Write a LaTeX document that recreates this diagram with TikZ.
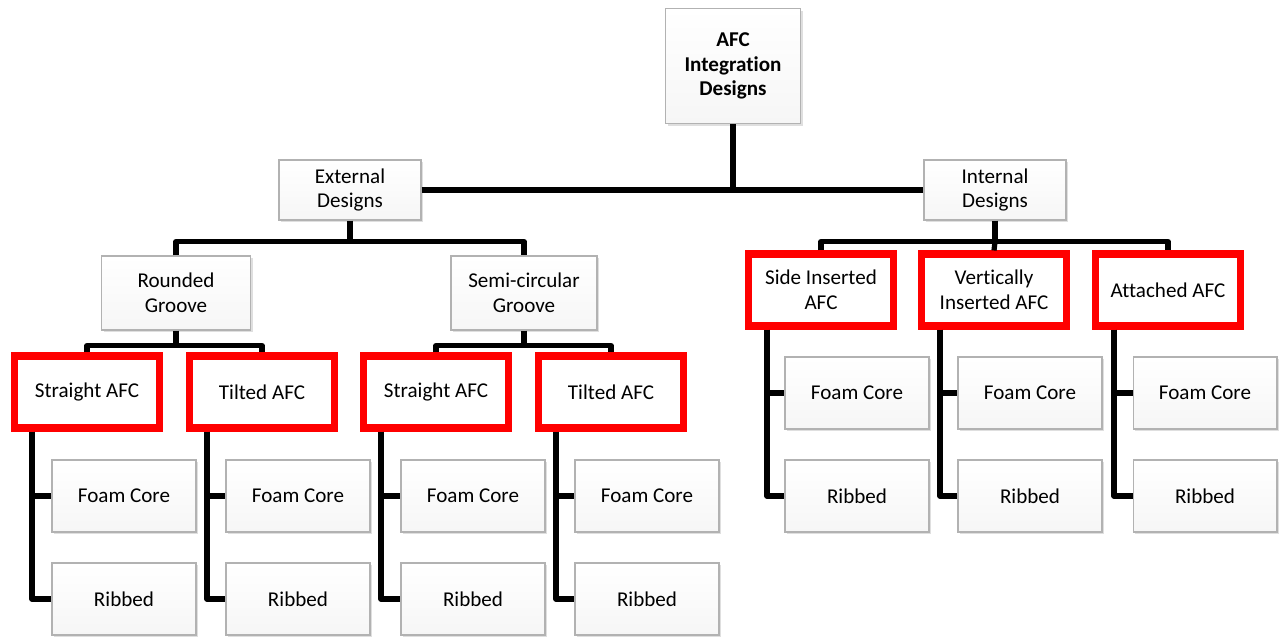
\documentclass[tikz,border=0pt]{standalone}
\usepackage{fontspec}
\setmainfont[Ligatures=NoCommon]{Carlito}
\usepackage{tikz}
\usetikzlibrary{positioning, shadows, calc}

\begin{document}
\begin{tikzpicture}[
    x=0.02cm, y=0.02cm,
    box/.style={
        rectangle, draw=gray!60, line width=0.6pt,
        top color=white, bottom color=gray!7,
        drop shadow={opacity=0.25, shadow xshift=1.2pt, shadow yshift=-1.2pt},
        font=\fontsize{12}{14}\selectfont,
        align=center, inner sep=2pt
    },
    leaf/.style={box, minimum width=2.88cm, minimum height=1.44cm},
    afc/.style={
        rectangle, draw=red, line width=4pt,
        fill=white,
        drop shadow={opacity=0.25, shadow xshift=1.5pt, shadow yshift=-1.5pt},
        minimum width=2.9cm, minimum height=1.44cm,
        font=\fontsize{12}{14}\selectfont,
        align=center, inner sep=2pt
    },
    conn/.style={line width=3pt, black, line join=round}
]
\useasboundingbox (0,0) rectangle (1281,-639);

% === ROOT ===

\node[box, minimum width=2.7cm, minimum height=2.3cm, font=\fontsize{12}{14}\selectfont\bfseries]
    (root) at (733,-66) {AFC\\Integration\\Designs};

\node[box, minimum width=2.84cm, minimum height=1.2cm] (ext) at (350,-190) {External\\Designs};
\node[box, minimum width=2.84cm, minimum height=1.2cm] (int) at (995,-190) {Internal\\Designs};

% === EXTERNAL ===

\node[box, minimum width=2.98cm, minimum height=1.48cm] (rg) at (176,-293) {Rounded\\Groove};
\node[box, minimum width=2.92cm, minimum height=1.48cm] (sg) at (524,-293) {Semi-circular\\Groove};

\node[afc] (sa1) at (87,-392) {Straight AFC};
\node[afc] (ta1) at (262,-392) {Tilted AFC};
\node[afc] (sa2) at (436,-392) {Straight AFC};
\node[afc] (ta2) at (611,-392) {Tilted AFC};

\node[leaf] (fc1) at (124,-496) {Foam Core};
\node[leaf] (rb1) at (124,-599) {Ribbed};
\node[leaf] (fc2) at (298,-496) {Foam Core};
\node[leaf] (rb2) at (298,-599) {Ribbed};
\node[leaf] (fc3) at (473,-496) {Foam Core};
\node[leaf] (rb3) at (473,-599) {Ribbed};
\node[leaf] (fc4) at (647,-496) {Foam Core};
\node[leaf] (rb4) at (647,-599) {Ribbed};

% === INTERNAL ===

\node[afc] (si) at (821,-290) {Side Inserted\\AFC};
\node[afc] (vi) at (994,-290) {Vertically\\Inserted AFC};
\node[afc] (aa) at (1168,-290) {Attached AFC};

\node[leaf] (fc5) at (857,-393) {Foam Core};
\node[leaf] (rb5) at (857,-496) {Ribbed};
\node[leaf] (fc6) at (1030,-393) {Foam Core};
\node[leaf] (rb6) at (1030,-496) {Ribbed};
\node[leaf] (fc7) at (1205,-393) {Foam Core};
\node[leaf] (rb7) at (1205,-496) {Ribbed};

% === CONNECTORS ===

\draw[conn] (root.south) -- (root.south |- ext.east);
\draw[conn] (ext.east) -- (int.west);

\draw[conn] (ext.south) -- ++(0,-21) coordinate (ef);
\draw[conn] (rg.north) |- (ef) -| (sg.north);

\draw[conn] (rg.south) -- ++(0,-15) coordinate (rf);
\draw[conn] (sa1.north) |- (rf) -| (ta1.north);
\draw[conn] (sg.south) -- ++(0,-15) coordinate (sf);
\draw[conn] (sa2.north) |- (sf) -| (ta2.north);

\draw[conn] (int.south) -- ++(0,-21) coordinate (inf);
\draw[conn] (si.north) |- (inf) -| (aa.north);
\draw[conn] (inf) -- (vi.north);

% red boxes to leaves
\draw[conn] ([xshift=0.42cm]sa1.south west) |- (fc1.west);
\draw[conn] ([xshift=0.42cm]sa1.south west) |- (rb1.west);
\draw[conn] ([xshift=0.42cm]ta1.south west) |- (fc2.west);
\draw[conn] ([xshift=0.42cm]ta1.south west) |- (rb2.west);
\draw[conn] ([xshift=0.42cm]sa2.south west) |- (fc3.west);
\draw[conn] ([xshift=0.42cm]sa2.south west) |- (rb3.west);
\draw[conn] ([xshift=0.42cm]ta2.south west) |- (fc4.west);
\draw[conn] ([xshift=0.42cm]ta2.south west) |- (rb4.west);

\draw[conn] ([xshift=0.44cm]si.south west) |- (fc5.west);
\draw[conn] ([xshift=0.44cm]si.south west) |- (rb5.west);
\draw[conn] ([xshift=0.44cm]vi.south west) |- (fc6.west);
\draw[conn] ([xshift=0.44cm]vi.south west) |- (rb6.west);
\draw[conn] ([xshift=0.44cm]aa.south west) |- (fc7.west);
\draw[conn] ([xshift=0.44cm]aa.south west) |- (rb7.west);

\end{tikzpicture}
\end{document}
